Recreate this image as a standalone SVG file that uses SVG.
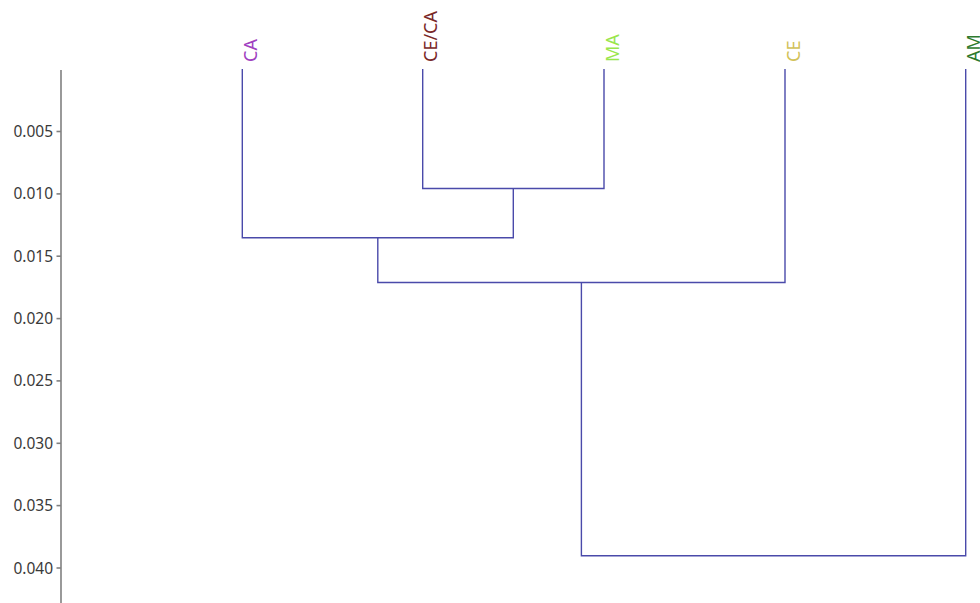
<svg xmlns="http://www.w3.org/2000/svg" width="980" height="603" viewBox="0 0 980 603">
<style>
.ax{stroke:#808080;stroke-width:1.6;fill:none}
.tk{font-family:"Noto Sans","Open Sans",sans-serif;font-size:15.5px;fill:#3a3a3a;text-anchor:end}
.lf{font-family:"Noto Sans","Open Sans",sans-serif;font-size:18px;text-anchor:start}
.br{stroke:#4a4aaa;stroke-width:1.4;fill:none}
</style>
<rect width="980" height="603" fill="#fff"/>
<g id="axis">
<line class="ax" x1="61" y1="70" x2="61" y2="603"/>
<g class="ax">
<line x1="56.5" y1="131.5" x2="61" y2="131.5"/>
<line x1="56.5" y1="193.9" x2="61" y2="193.9"/>
<line x1="56.5" y1="256.2" x2="61" y2="256.2"/>
<line x1="56.5" y1="318.6" x2="61" y2="318.6"/>
<line x1="56.5" y1="380.9" x2="61" y2="380.9"/>
<line x1="56.5" y1="443.3" x2="61" y2="443.3"/>
<line x1="56.5" y1="505.6" x2="61" y2="505.6"/>
<line x1="56.5" y1="568" x2="61" y2="568"/>
</g>
<text class="tk" x="53" y="137">0.005</text>
<text class="tk" x="53" y="199.4">0.010</text>
<text class="tk" x="53" y="261.7">0.015</text>
<text class="tk" x="53" y="324.1">0.020</text>
<text class="tk" x="53" y="386.4">0.025</text>
<text class="tk" x="53" y="448.8">0.030</text>
<text class="tk" x="53" y="511.1">0.035</text>
<text class="tk" x="53" y="573.5">0.040</text>
</g>
<g id="leaf-CA"><text class="lf" fill="#a040c0" transform="translate(256.5,62) rotate(-90)">CA</text></g>
<g id="leaf-CECA"><text class="lf" fill="#7a2828" transform="translate(437,62) rotate(-90)">CE/CA</text></g>
<g id="leaf-MA"><text class="lf" fill="#99e64d" transform="translate(618.5,62) rotate(-90)">MA</text></g>
<g id="leaf-CE"><text class="lf" fill="#d2c25a" transform="translate(799.5,62) rotate(-90)">CE</text></g>
<g id="leaf-AM"><text class="lf" fill="#2e7a2e" transform="translate(979.5,62) rotate(-90)">AM</text></g>
<g id="connectors" class="br">
<path d="M422.7,69 V188.5 H604 V69"/>
<path d="M242.3,69 V237.8 H513.3 V188.5"/>
<path d="M377.8,237.8 V282.5 H785 V69"/>
<path d="M581.4,282.5 V555.7 H965.7 V69"/>
</g>
</svg>
